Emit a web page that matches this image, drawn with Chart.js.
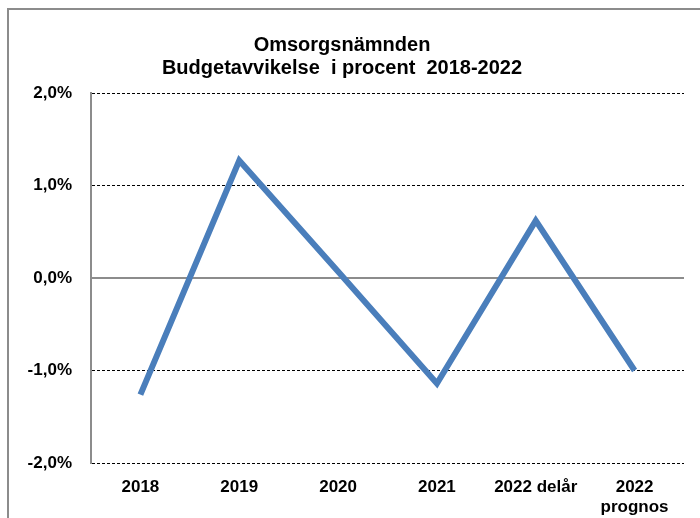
<!DOCTYPE html>
<html>
<head>
<meta charset="utf-8">
<script src="https://cdn.jsdelivr.net/npm/chart.js@4"></script>
<style>
  html, body { margin: 0; padding: 0; background: #fff; }
  #wrap { position: relative; width: 700px; height: 518px; overflow: hidden; }
  #frame { position: absolute; left: 7px; top: 8px; width: 720px; height: 540px;
           border-left: 2px solid #8c8c8c; border-top: 2px solid #8c8c8c; }
  canvas { position: absolute; left: 0; top: 0; }
</style>
</head>
<body>
<div id="wrap">
  <div id="frame"></div>
  <canvas id="chart" width="700" height="518"></canvas>
</div>
<script>
// Budget deviation per year, in percent
const categories = ['2018', '2019', '2020', '2021', '2022 delår', ['2022', 'prognos']];
const deviation = [-1.26, 1.27, 0.07, -1.14, 0.62, -1.0];
const yTicks = [-2, -1, 0, 1, 2];
const titleLines = ['Omsorgsnämnden', 'Budgetavvikelse  i procent  2018-2022'];

document.addEventListener('DOMContentLoaded', function() {
    const ctx = document.getElementById('chart').getContext('2d');

    Chart.defaults.font.family = "'Liberation Sans', Arial, sans-serif";
    Chart.defaults.color = '#000';

    new Chart(ctx, {
        type: 'line',
        data: {
            labels: categories,
            datasets: [{
                data: deviation,
                borderColor: '#4a7ebb',
                borderWidth: 6,
                pointRadius: 0,
                tension: 0,
                fill: false
            }]
        },
        options: {
            responsive: false,
            animation: false,
            layout: { padding: { left: 0, right: 16, top: 0, bottom: 0 } },
            plugins: {
                legend: { display: false },
                tooltip: { enabled: false },
                title: {
                    display: true,
                    text: titleLines,
                    font: { size: 20, weight: 'bold', lineHeight: 1.15 },
                    color: '#000',
                    padding: { top: 34, bottom: 13 }
                }
            },
            scales: {
                x: {
                    offset: true,
                    grid: { display: false },
                    border: { display: false },
                    ticks: {
                        font: { size: 17, weight: 'bold', lineHeight: 1.2 },
                        padding: 6,
                        maxRotation: 0,
                        autoSkip: false
                    },
                    afterFit: scale => { scale.height = 55; }
                },
                y: {
                    min: -2,
                    max: 2,
                    afterBuildTicks: scale => {
                        scale.ticks = yTicks.map(v => ({ value: v }));
                    },
                    ticks: {
                        font: { size: 17, weight: 'bold' },
                        padding: 19,
                        callback: v => v.toFixed(1).replace('.', ',') + '%'
                    },
                    grid: {
                        drawTicks: false,
                        color: c => c.tick && c.tick.value === 0 ? '#8c8c8c' : '#000',
                        lineWidth: c => c.tick && c.tick.value === 0 ? 2 : 1
                    },
                    border: {
                        display: true,
                        color: '#8c8c8c',
                        width: 2,
                        dash: c => c.tick && c.tick.value !== 0 ? [3, 2] : []
                    },
                    afterFit: scale => { scale.width = 91; }
                }
            }
        }
    });
});
</script>
</body>
</html>
